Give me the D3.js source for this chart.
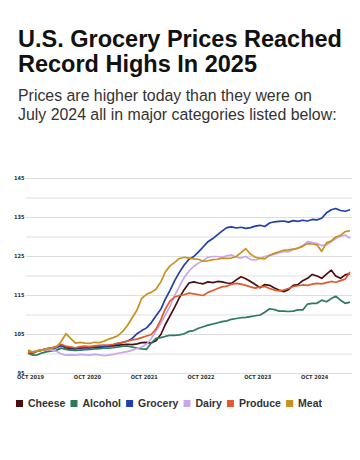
<!DOCTYPE html>
<html>
<head>
<meta charset="utf-8">
<script src="https://cdn.jsdelivr.net/npm/d3@7"></script>
<style>
  html, body { margin: 0; padding: 0; background: #fff; }
  svg { display: block; }
</style>
</head>
<body>
<svg id="chart" width="360" height="460"></svg>
<script>
// ---------- DATA ----------
const titleLines = ["U.S. Grocery Prices Reached", "Record Highs In 2025"];
const subtitleLines = ["Prices are higher today than they were on", "July 2024 all in major categories listed below:"];

const seriesNames = ["Cheese", "Alcohol", "Grocery", "Dairy", "Produce", "Meat"];
const seriesColors = ["#4a0d12", "#2b7a5b", "#1f3fae", "#c9a6ec", "#e05a2b", "#c8921c"];

// monthly, Oct 2019 .. Jun 2025 (69 points)
const months = d3.timeMonth.range(new Date(2019, 9, 1), new Date(2025, 6, 1));

const cheese = [
  100.3, 100.2, 100.8, 101.1, 101.4, 101.6, 101.8, 102.2, 101.6, 101.4,
  101.3, 101.5, 101.7, 101.6, 101.8, 101.7, 101.9, 102.0, 102.1, 102.2,
  102.4, 102.5, 102.4, 102.6, 102.9, 103.0, 102.8, 103.4, 105.0, 107.5,
  109.8, 112.0, 114.5, 116.5, 118.2, 118.5, 118.2, 118.0, 118.5, 118.3,
  118.6, 118.5, 118.2, 118.1, 119.0, 119.8, 119.3, 118.6, 117.8, 117.0,
  117.8, 117.6, 116.9, 116.4, 116.0, 116.5, 117.6, 117.8, 118.8, 119.4,
  120.4, 120.0, 119.4, 120.5, 121.5, 120.0, 119.4, 120.3, 120.6
];
const alcohol = [
  100.2, 99.7, 99.8, 100.3, 100.6, 100.8, 101.0, 101.5, 101.2, 101.0,
  100.9, 101.0, 101.1, 101.2, 101.3, 101.4, 101.5, 101.5, 101.6, 101.8,
  102.0, 102.0, 101.8, 101.5, 101.3, 101.2, 102.8, 104.0, 104.2, 104.5,
  104.8, 104.8, 104.9, 105.2, 105.8, 106.0, 106.6, 107.0, 107.4, 107.7,
  108.0, 108.3, 108.5, 108.9, 109.1, 109.3, 109.4, 109.6, 109.8, 110.0,
  110.7, 111.6, 111.4, 111.0, 111.0, 110.9, 111.0, 111.3, 111.3, 112.8,
  113.0, 113.0, 113.8, 113.4, 114.2, 114.8, 113.8, 113.0, 113.3
];
const grocery = [
  100.6, 100.5, 100.8, 101.0, 101.2, 101.3, 101.6, 102.2, 101.8, 101.7,
  101.5, 101.6, 101.7, 101.6, 101.8, 101.9, 102.0, 102.1, 102.3, 102.6,
  103.0, 103.3, 104.0, 105.2, 106.0, 106.7, 108.0, 109.8, 111.5, 114.0,
  116.3, 118.8, 121.0, 122.8, 124.3, 125.0, 126.2, 127.5, 128.8, 129.6,
  130.6, 131.5, 132.4, 132.6, 132.3, 132.5, 132.2, 132.4, 132.8, 133.0,
  132.7, 133.6, 133.9, 134.0, 134.1, 133.8, 134.2, 134.0, 134.3, 134.1,
  134.5, 134.4, 134.8, 136.2, 137.0, 137.3, 136.8, 136.6, 137.0
];
const dairy = [
  100.4, 100.6, 100.9, 101.0, 101.2, 101.0, 100.7, 100.0, 99.7, 99.8,
  99.7, 99.9, 99.8, 99.7, 99.9, 99.8, 99.6, 99.7, 99.9, 100.2,
  100.4, 100.6, 101.0, 101.4, 101.8, 102.5, 103.9, 105.9, 107.9, 110.0,
  112.2, 115.0, 117.4, 119.6, 121.3, 122.5, 123.3, 124.0, 124.8, 125.0,
  125.0, 124.8, 125.2, 125.4, 124.8, 124.6, 125.0, 124.2, 124.1, 124.5,
  125.0, 125.3, 125.6, 126.0, 126.3, 126.2, 126.8, 127.2, 127.8, 128.8,
  128.6, 128.3, 127.8, 128.0, 128.8, 129.6, 130.2, 130.5, 129.7
];
const produce = [
  100.5, 100.3, 100.7, 101.0, 101.3, 101.5, 102.0, 102.5, 102.0, 101.8,
  101.6, 101.9, 102.0, 101.9, 102.1, 102.2, 102.3, 102.3, 102.5, 102.8,
  103.0, 103.3, 103.6, 103.8, 104.2, 104.6, 105.0, 106.4, 108.8, 111.5,
  113.6, 114.6, 115.0, 115.2, 115.6, 115.4, 115.2, 115.0, 115.8, 116.3,
  116.8, 117.2, 117.4, 117.9, 118.1, 117.9, 117.6, 117.2, 116.9, 117.2,
  117.3, 116.8, 116.4, 116.2, 116.4, 116.8, 117.3, 117.5, 117.7, 117.6,
  117.9, 118.1, 118.0, 118.3, 118.6, 118.4, 118.8, 119.2, 121.0
];
const meat = [
  101.0, 100.5, 100.8, 101.0, 101.3, 101.5, 101.8, 103.2, 105.2, 104.0,
  102.8, 103.0, 102.8, 102.7, 103.0, 102.9, 103.3, 103.8, 104.2, 104.7,
  105.8, 107.3, 109.3, 111.3, 114.3, 115.3, 115.8, 116.6, 118.5, 121.0,
  122.6, 123.5, 124.5, 124.8, 124.6, 124.4, 124.3, 123.8, 123.9, 124.2,
  124.3, 124.6, 124.5, 124.6, 125.0, 126.0, 127.0, 125.6, 124.8, 124.5,
  124.4, 125.3, 125.8, 126.2, 126.6, 126.7, 126.9, 127.1, 127.6, 128.3,
  128.2, 128.0, 126.3, 128.5, 129.0, 130.0, 130.4, 131.4, 131.6
];
const seriesValues = [cheese, alcohol, grocery, dairy, produce, meat];

const yTickLabels = [95, 105, 115, 125, 135, 145];
const yGridValues = [95, 100, 105, 110, 115, 120, 125, 130, 135, 140, 145];
const xTickDates = [2019, 2020, 2021, 2022, 2023, 2024].map(y => new Date(y, 9, 1));

// ---------- DRAW ----------
const svg = d3.select("#chart");
svg.append("rect").attr("width", 360).attr("height", 460).attr("fill", "#fff");

function fitText(sel, target) {
  const w = sel.node().getComputedTextLength();
  const fs = parseFloat(sel.attr("font-size"));
  sel.attr("font-size", (fs * target / w).toFixed(2));
}

const titleFont = "'Liberation Sans', Arial, sans-serif";
const t1 = svg.append("text").attr("x", 18).attr("y", 46.5)
  .attr("font-family", titleFont).attr("font-weight", 700).attr("font-size", 21)
  .attr("fill", "#111").text(titleLines[0]);
fitText(t1, 324);
svg.append("text").attr("x", 18).attr("y", 71.5)
  .attr("font-family", titleFont).attr("font-weight", 700).attr("font-size", t1.attr("font-size"))
  .attr("fill", "#111").text(titleLines[1]);

const s1 = svg.append("text").attr("x", 18).attr("y", 101)
  .attr("font-family", titleFont).attr("font-size", 13.5)
  .attr("fill", "#333").text(subtitleLines[0]);
fitText(s1, 294);
svg.append("text").attr("x", 18).attr("y", 120)
  .attr("font-family", titleFont).attr("font-size", s1.attr("font-size"))
  .attr("fill", "#333").text(subtitleLines[1]);

// scales
const x = d3.scaleTime()
  .domain([months[0], months[months.length - 1]])
  .range([28, 350]);
const y = d3.scaleLinear().domain([95, 145]).range([373.5, 178.5]);

// grid
svg.append("g").selectAll("line").data(yGridValues).join("line")
  .attr("x1", 26).attr("x2", 352)
  .attr("y1", d => y(d)).attr("y2", d => y(d))
  .attr("stroke", "#dedede").attr("stroke-width", 1);

const tickFont = "'DejaVu Sans Condensed', 'Liberation Sans Narrow', 'DejaVu Sans', sans-serif";

// y axis labels
const yAxis = d3.axisLeft(y).tickValues(yTickLabels).tickSize(0).tickPadding(0);
const gy = svg.append("g").attr("transform", "translate(24.5,-1)").call(yAxis);
gy.select(".domain").remove();
gy.selectAll("text").attr("font-family", tickFont).attr("font-size", 5.6)
  .attr("font-weight", 700).attr("fill", "#333").attr("text-anchor", "end");

// x axis labels
const xAxis = d3.axisBottom(x).tickValues(xTickDates).tickSize(0).tickPadding(0)
  .tickFormat(d => d3.timeFormat("%b %Y")(d).toUpperCase());
const gx = svg.append("g").attr("transform", "translate(2,375.5)").call(xAxis);
gx.select(".domain").remove();
gx.selectAll("text").attr("font-family", tickFont).attr("font-size", 5.6)
  .attr("font-weight", 700).attr("fill", "#333");

// lines
const line = d3.line().x((d, i) => x(months[i])).y(d => y(d));
svg.append("g").selectAll("path").data(seriesValues).join("path")
  .attr("d", d => line(d))
  .attr("fill", "none")
  .attr("stroke", (d, i) => seriesColors[i])
  .attr("stroke-width", 1.7)
  .attr("stroke-linejoin", "round");

// legend
const legend = svg.append("g");
const legendFont = "'Liberation Sans', Arial, sans-serif";
const items = legend.selectAll("g").data(seriesNames).join("g");
items.append("rect").attr("width", 7).attr("height", 7).attr("y", 400)
  .attr("fill", (d, i) => seriesColors[i]);
items.append("text").attr("x", 12).attr("y", 407.3)
  .attr("font-family", legendFont).attr("font-weight", 700).attr("font-size", 10.5)
  .attr("fill", "#333").text(d => d);
const widths = [];
items.each(function () { widths.push(12 + d3.select(this).select("text").node().getComputedTextLength()); });
const startX = 16, endX = 322;
const gap = (endX - startX - d3.sum(widths)) / (widths.length - 1);
let cx = startX;
items.each(function (d, i) {
  d3.select(this).attr("transform", `translate(${cx},0)`);
  cx += widths[i] + gap;
});
</script>
</body>
</html>
